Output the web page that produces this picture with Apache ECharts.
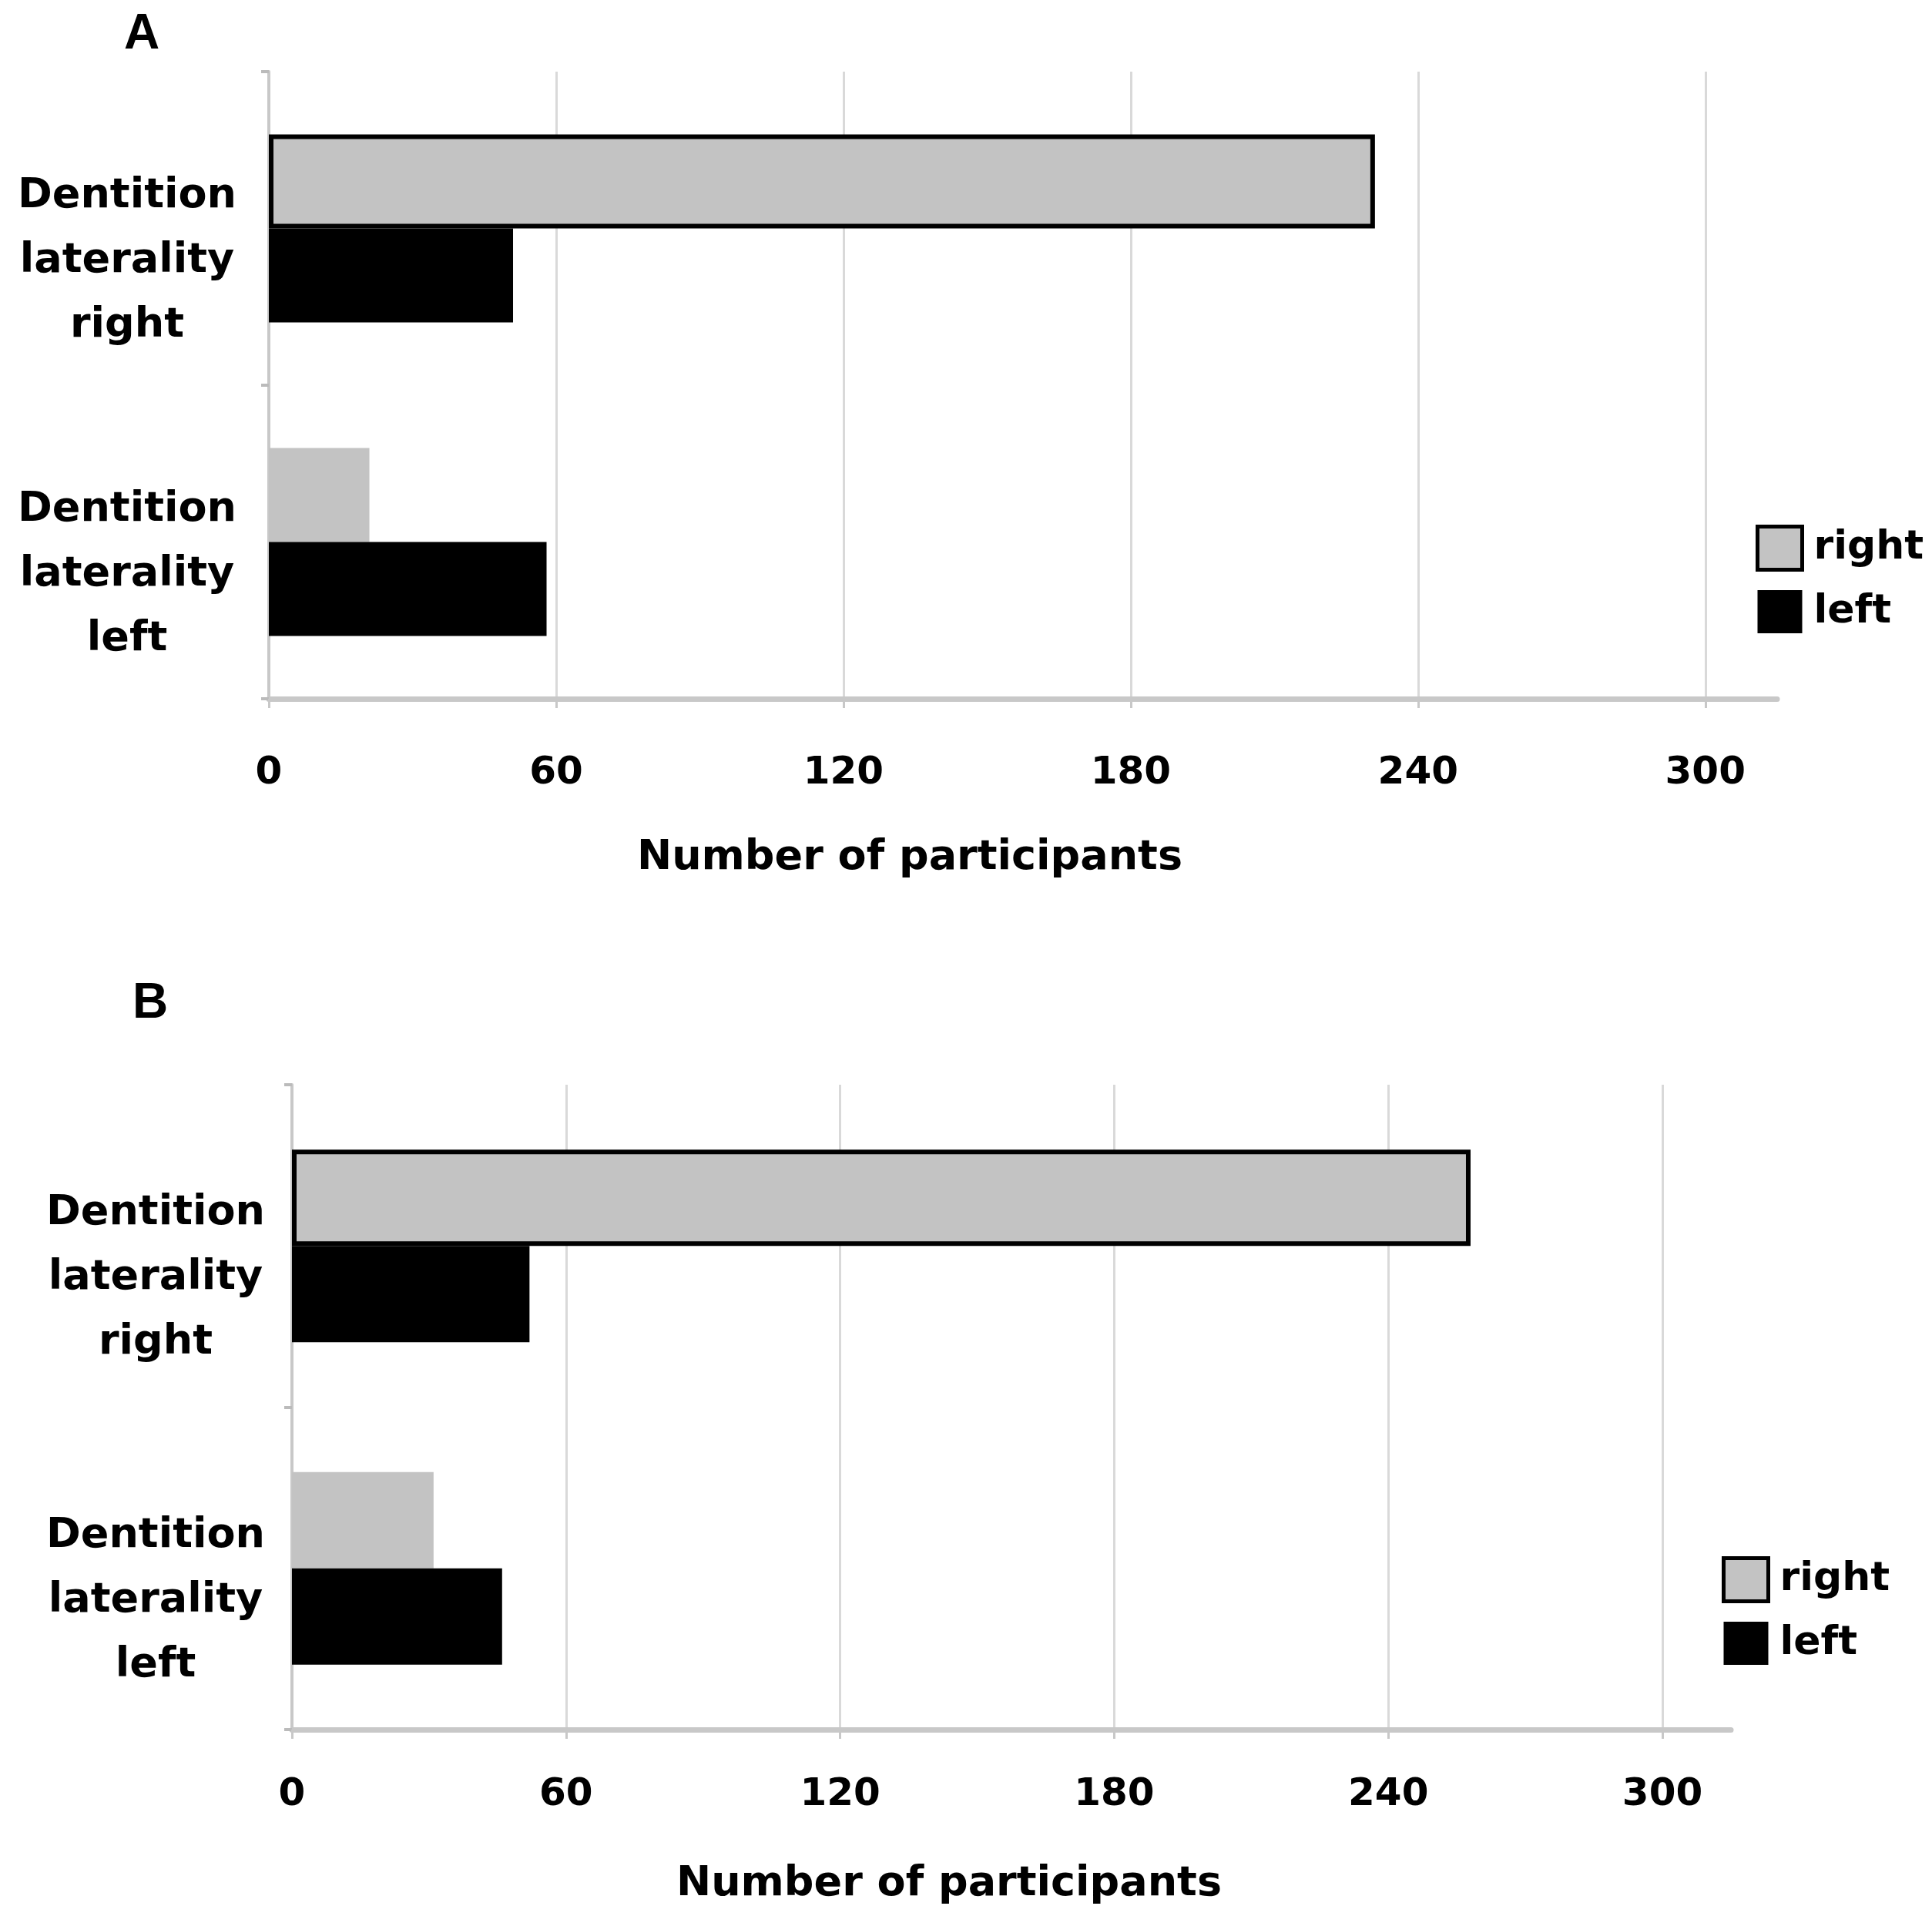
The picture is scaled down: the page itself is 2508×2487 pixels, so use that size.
<!DOCTYPE html>
<html>
<head>
<meta charset="utf-8">
<script src="https://cdn.jsdelivr.net/npm/echarts@6/dist/echarts.min.js"></script>
<style>
html,body{margin:0;padding:0;background:#fff;}
#c{width:2508px;height:2487px;}
</style>
</head>
<body>
<div id="c"></div>
<script>
const categories = ['Dentition\nlaterality\nright', 'Dentition\nlaterality\nleft'];
const seriesNames = ['right', 'left'];
const panelA_right = [231, 21];
const panelA_left = [51, 58];
const panelB_right = [258, 31];
const panelB_left = [52, 46];
const panelLabels = ['A', 'B'];
const axisTitle = 'Number of participants';

const FONT = 'DejaVu Sans';
const GREY = '#c3c3c3';
const BLACK = '#000000';

function xAxisCfg(gi, margin) {
  return {
    type: 'value', gridIndex: gi, min: 0, max: 315, interval: 60,
    axisLine: { show: true, lineStyle: { color: '#c8c8c8', width: 7 } },
    axisTick: { show: true, length: 12, lineStyle: { color: '#c8c8c8', width: 3 } },
    axisLabel: {
      margin: margin, fontFamily: FONT, fontWeight: 'bold', fontSize: 50, color: '#000',
      showMaxLabel: false,
      formatter: v => (v % 60 === 0 ? String(v) : '')
    },
    splitLine: { show: true, showMaxLine: false, showMinLine: false, lineStyle: { color: '#d9d9d9', width: 3 } }
  };
}
function yAxisCfg(gi, margin) {
  return {
    type: 'category', gridIndex: gi, inverse: true, data: categories,
    axisLine: { show: true, lineStyle: { color: '#c8c8c8', width: 4 } },
    axisTick: { show: true, length: 10, lineStyle: { color: '#bbbbbb', width: 4 } },
    axisLabel: {
      margin: margin, align: 'center', fontFamily: FONT, fontWeight: 'bold', fontSize: 54,
      lineHeight: 84, color: '#000',
      formatter: v => '\n' + v
    }
  };
}
function barSeries(name, vals, gi, color, bw, bordered) {
  return {
    type: 'bar', name: name, xAxisIndex: gi, yAxisIndex: gi, barWidth: bw, barGap: '0%',
    itemStyle: { color: color },
    data: vals.map((v, i) => (bordered && i === 0)
      ? { value: v, itemStyle: { borderColor: '#000', borderWidth: 6 } }
      : v),
    z: 3
  };
}
function legendCfg(left, top) {
  return {
    orient: 'vertical', left: left, top: top, itemWidth: 58, itemHeight: 56, itemGap: 24,
    icon: 'rect',
    textStyle: { fontFamily: FONT, fontWeight: 'bold', fontSize: 52, color: '#000', padding: [0, 0, 0, 10] },
    data: [
      { name: seriesNames[0], itemStyle: { color: GREY, borderColor: '#000', borderWidth: 5 } },
      { name: seriesNames[1], itemStyle: { color: BLACK } }
    ]
  };
}

const chart = echarts.init(document.getElementById('c'), null, { renderer: 'canvas' });
chart.setOption({
  backgroundColor: '#ffffff',
  animation: false,
  title: [
    { text: panelLabels[0], left: 179, top: 8, textAlign: 'center',
      textStyle: { fontFamily: 'Liberation Sans', fontWeight: 'bold', fontSize: 64, color: '#000' } },
    { text: panelLabels[1], left: 190, top: 1266, textAlign: 'center',
      textStyle: { fontFamily: 'Liberation Sans', fontWeight: 'bold', fontSize: 64, color: '#000' } },
    { text: axisTitle, left: 1176, top: 1082, textAlign: 'center',
      textStyle: { fontFamily: FONT, fontWeight: 'bold', fontSize: 54, color: '#000' } },
    { text: axisTitle, left: 1227, top: 2414, textAlign: 'center',
      textStyle: { fontFamily: FONT, fontWeight: 'bold', fontSize: 54, color: '#000' } }
  ],
  grid: [
    { left: 349, top: 93, width: 1958, height: 814 },
    { left: 379, top: 1408, width: 1868, height: 837 }
  ],
  xAxis: [xAxisCfg(0, 72), xAxisCfg(1, 60)],
  yAxis: [yAxisCfg(0, 184), yAxisCfg(1, 177)],
  legend: [legendCfg(2274, 676), legendCfg(2230, 2015)],
  series: [
    barSeries(seriesNames[0], panelA_right, 0, GREY, 122, true),
    barSeries(seriesNames[1], panelA_left, 0, BLACK, 122, false),
    barSeries(seriesNames[0], panelB_right, 1, GREY, 125, true),
    barSeries(seriesNames[1], panelB_left, 1, BLACK, 125, false)
  ]
});
</script>
</body>
</html>
